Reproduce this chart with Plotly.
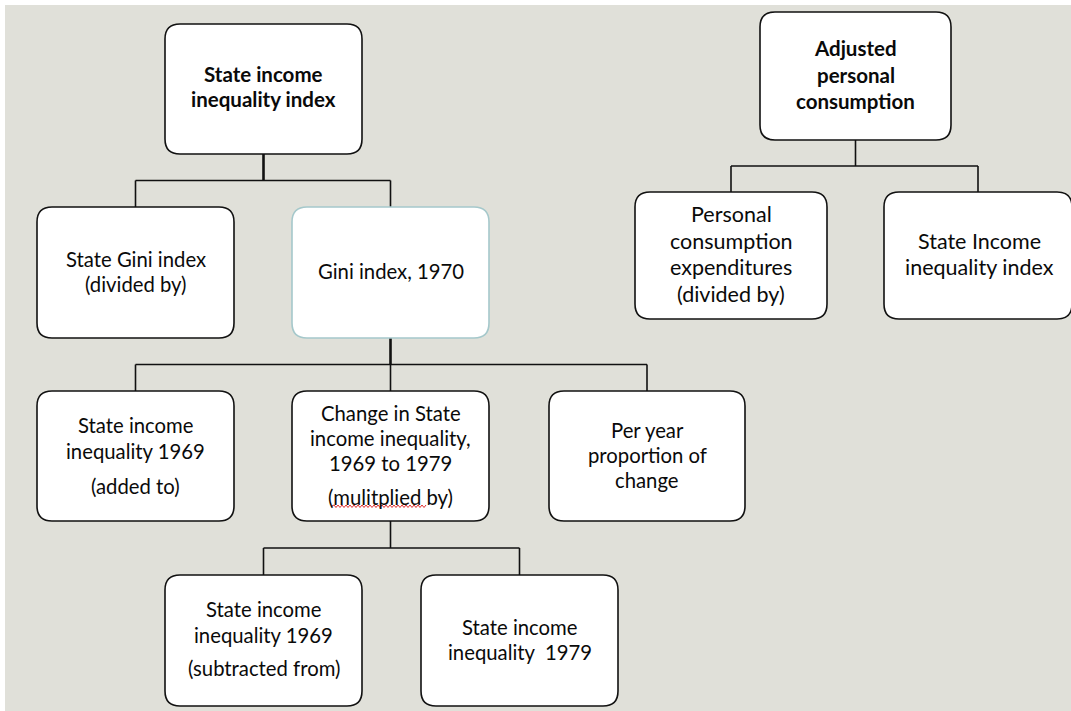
import plotly.graph_objects as go

W, H = 1071, 711

# ---- content (labels) ----
box_names = ["root_left", "gini_state", "gini_1970", "ineq69_add", "change",
             "per_year", "ineq69_sub", "ineq79", "root_right", "pce", "ineq_index"]
box_lines = {
    "root_left": ["State income", "inequality index"],
    "gini_state": ["State Gini index", "(divided by)"],
    "gini_1970": ["Gini index, 1970"],
    "ineq69_add": ["State income", "inequality 1969", "(added to)"],
    "change": ["Change in State", "income inequality,", "1969 to 1979", "(mulitplied by)"],
    "per_year": ["Per year", "proportion of", "change"],
    "ineq69_sub": ["State income", "inequality 1969", "(subtracted from)"],
    "ineq79": ["State income", "inequality  1979"],
    "root_right": ["Adjusted", "personal", "consumption"],
    "pce": ["Personal", "consumption", "expenditures", "(divided by)"],
    "ineq_index": ["State Income", "inequality index"],
}
edges = [("root_left", ["gini_state", "gini_1970"]),
         ("gini_1970", ["ineq69_add", "change", "per_year"]),
         ("change", ["ineq69_sub", "ineq79"]),
         ("root_right", ["pce", "ineq_index"])]

# ---- layout (pixel geometry, y downward) ----
geom = {  # x0, x1, y0, y1
    "root_left": (165, 362, 24, 154),
    "gini_state": (37, 234, 207, 338),
    "gini_1970": (292, 489, 207, 338),
    "ineq69_add": (37, 234, 391, 521),
    "change": (292, 489, 391, 521),
    "per_year": (549, 745, 391, 521),
    "ineq69_sub": (165, 362, 575, 706),
    "ineq79": (421, 618, 575, 706),
    "root_right": (760, 951, 12, 140),
    "pce": (635, 827, 192, 319),
    "ineq_index": (884, 1072, 192, 319),
}
line_y = {
    "root_left": [74, 99],
    "gini_state": [259, 284],
    "gini_1970": [271],
    "ineq69_add": [425, 451, 486],
    "change": [413, 438, 463, 497],
    "per_year": [430, 455, 480],
    "ineq69_sub": [609, 635, 668],
    "ineq79": [627, 652],
    "root_right": [48, 75, 101],
    "pce": [214, 241, 267, 294],
    "ineq_index": [241, 267],
}
bold = {"root_left", "root_right"}
right_side = {"root_right", "pce", "ineq_index"}
thick_stem = {"root_left": 2.6, "gini_1970": 2.6}

BG = "#e0e0d9"
FONT = "Lato"


def rrect(x0, x1, y0, y1, r=15):
    return (f"M {x0+r},{y0} L {x1-r},{y0} Q {x1},{y0} {x1},{y0+r} "
            f"L {x1},{y1-r} Q {x1},{y1} {x1-r},{y1} L {x0+r},{y1} "
            f"Q {x0},{y1} {x0},{y1-r} L {x0},{y0+r} Q {x0},{y0} {x0+r},{y0} Z")


shapes = []
# gray canvas with thin white strip at top/left
shapes.append(dict(type="rect", xref="x", yref="y", x0=5, x1=W + 2, y0=5, y1=H + 2,
                   fillcolor=BG, line=dict(width=0), layer="below"))

# connectors
for parent, kids in edges:
    px0, px1, py0, py1 = geom[parent]
    cx = (px0 + px1) / 2
    kid_top = min(geom[k][2] for k in kids)
    mid = (py1 + kid_top) / 2
    shapes.append(dict(type="line", xref="x", yref="y", x0=cx, x1=cx, y0=py1, y1=mid,
                       line=dict(color="#111111", width=thick_stem.get(parent, 1.6))))
    kx = [(geom[k][0] + geom[k][1]) / 2 for k in kids]
    shapes.append(dict(type="line", xref="x", yref="y", x0=min(kx), x1=max(kx), y0=mid, y1=mid,
                       line=dict(color="#111111", width=1.6)))
    for k, x in zip(kids, kx):
        shapes.append(dict(type="line", xref="x", yref="y", x0=x, x1=x, y0=mid, y1=geom[k][2],
                           line=dict(color="#111111", width=1.6)))

# boxes
for name in box_names:
    x0, x1, y0, y1 = geom[name]
    col = "#a5c8cb" if name == "gini_1970" else "#111111"
    shapes.append(dict(type="path", xref="x", yref="y", path=rrect(x0, x1, y0, y1),
                       fillcolor="white", line=dict(color=col, width=1.6)))

# red spell-check squiggle under "mulitplied"
sq = "M 332,506"
x, up = 332, True
while x < 425:
    x += 2
    sq += f" L {x},{505 if up else 507.5}"
    up = not up
shapes.append(dict(type="path", xref="x", yref="y", path=sq,
                   line=dict(color="#e03030", width=1)))

annotations = []
for name in box_names:
    x0, x1, y0, y1 = geom[name]
    cx = (x0 + x1) / 2
    if name == "ineq_index":
        cx = 979.5
    if name in bold:
        size = 20.5
    else:
        size = 21.5 if name in right_side else 20.3
    for txt, yy in zip(box_lines[name], line_y[name]):
        t = f"<b>{txt}</b>" if name in bold else txt
        annotations.append(dict(x=cx, y=yy, xref="x", yref="y", text=t, showarrow=False,
                                xanchor="center", yanchor="middle",
                                font=dict(family=FONT, size=size, color="#0a0a0a")))

fig = go.Figure()
fig.update_layout(
    width=W, height=H,
    margin=dict(l=0, r=0, t=0, b=0),
    paper_bgcolor="white", plot_bgcolor="white",
    xaxis=dict(range=[0, W], visible=False, fixedrange=True),
    yaxis=dict(range=[H, 0], visible=False, fixedrange=True),
    shapes=shapes, annotations=annotations, showlegend=False,
)
fig.write_html("out.html",
               post_script="document.body.style.margin='0';document.body.style.overflow='hidden';",
               config={"displayModeBar": False})
